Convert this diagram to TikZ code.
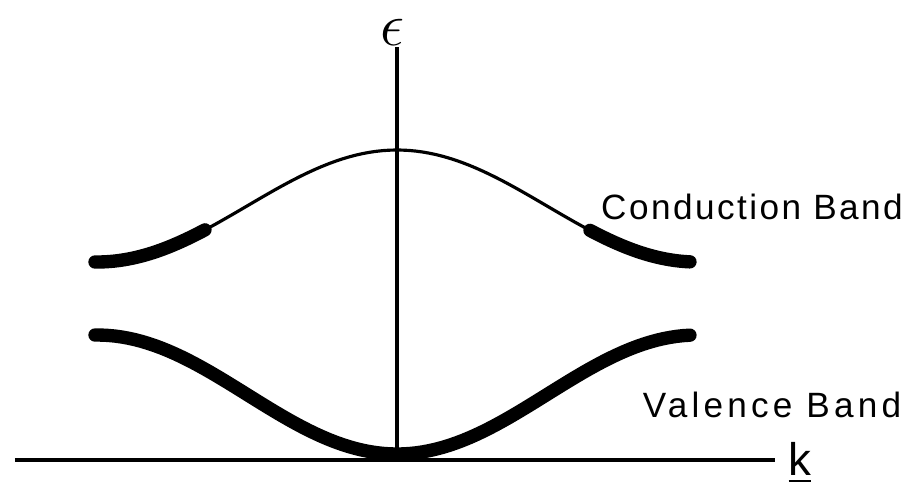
\documentclass[tikz,border=0pt]{standalone}
\usepackage{fontspec}
\usepackage{amsmath}
\newfontfamily\bandfont{Liberation Sans}[LetterSpace=7]
\newfontfamily\wideband{Liberation Sans}[LetterSpace=12]
\newfontfamily\axisfont{Liberation Sans}

\begin{document}
\begin{tikzpicture}[line width=0.9pt,
  thinband/.style={line width=0.9pt},
  thickband/.style={line width=3.8pt,line cap=round}]
  \useasboundingbox (-3.97,-0.30) rectangle (5.16,4.60);
  % --- ejes ---
  \coordinate (kmin) at (-3.82,0);
  \coordinate (kmax) at (3.78,0);
  \coordinate (O) at (0,0);
  \coordinate (emax) at (0,4.13);
  \draw (kmin) -- (kmax);
  \draw (O) -- (emax);
  \node[inner sep=0pt] (eps) at (-0.04,4.28){\fontsize{18}{21}\selectfont$\epsilon$};
  \node (k) at (4.03,-0.03){\fontsize{13}{15}\selectfont\axisfont\underline{k}};
  % --- banda de conduccion ---
  \draw[thinband] plot[domain=-3.02:2.93,samples=90] (\x,{3.10-0.56*(1-cos(60*\x))});
  \draw[thickband] plot[domain=-3.02:-1.92,samples=30] (\x,{3.10-0.56*(1-cos(60*\x))});
  \draw[thickband] plot[domain=1.93:2.93,samples=30] (\x,{3.10-0.56*(1-cos(60*\x))});
  \node (cb) at (3.55,2.53){\fontsize{10}{12}\selectfont\bandfont Conduction Band};
  % --- banda de valencia ---
  \draw[thickband] plot[domain=-3.02:2.93,samples=90] (\x,{0.06+0.595*(1-cos(60*\x))});
  \node (vb) at (3.75,0.55){\fontsize{10}{12}\selectfont\wideband Valence Band};
\end{tikzpicture}
\end{document}
